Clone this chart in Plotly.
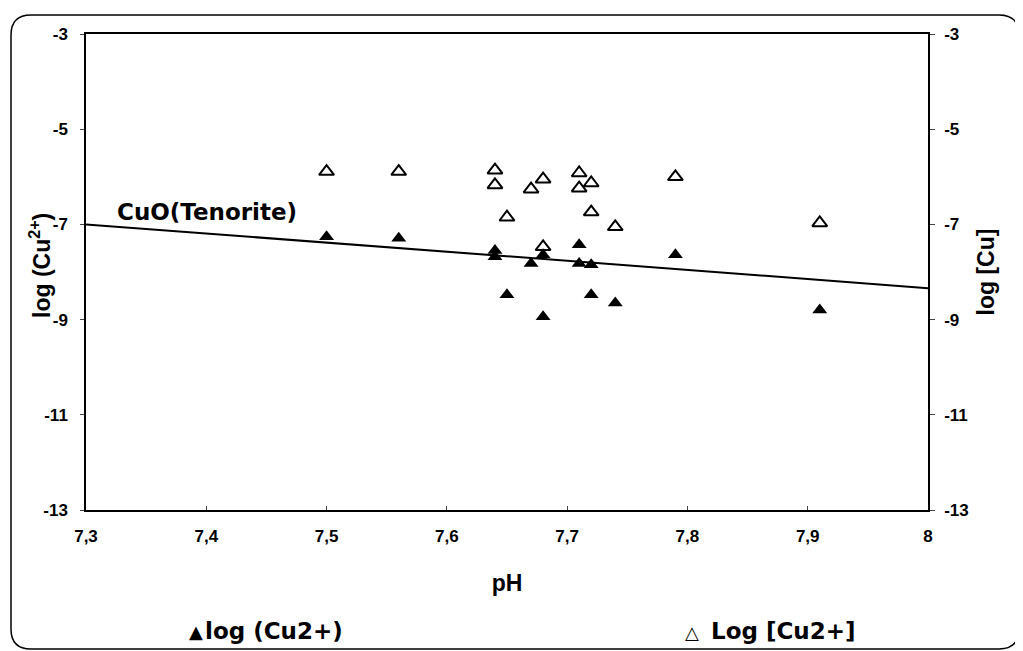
import plotly.graph_objects as go

# Data
ph_filled = [7.50, 7.56, 7.64, 7.64, 7.65, 7.67, 7.68, 7.68, 7.71, 7.71, 7.72, 7.72, 7.74, 7.79, 7.91]
log_cu2 = [-7.26, -7.29, -7.55, -7.68, -8.48, -7.82, -7.64, -8.94, -7.43, -7.82, -7.85, -8.48, -8.65, -7.64, -8.80]

ph_open = [7.50, 7.56, 7.64, 7.64, 7.65, 7.67, 7.68, 7.68, 7.71, 7.71, 7.72, 7.72, 7.74, 7.79, 7.91]
log_cu_total = [-5.89, -5.89, -5.86, -6.17, -6.85, -6.26, -6.05, -7.47, -5.92, -6.24, -6.13, -6.74, -7.05, -6.00, -6.97]

tenorite_ph = [7.3, 8.0]
tenorite_log = [-7.0, -8.34]

x_ticks = [7.3, 7.4, 7.5, 7.6, 7.7, 7.8, 7.9, 8.0]
x_ticklabels = ["7,3", "7,4", "7,5", "7,6", "7,7", "7,8", "7,9", "8"]
y_ticks = [-3, -5, -7, -9, -11, -13]
y_ticklabels = ["-3", "-5", "-7", "-9", "-11", "-13"]

FONT = "Liberation Sans, Arial, sans-serif"
WIDE = "DejaVu Sans, Verdana, sans-serif"

fig = go.Figure()
fig.add_trace(go.Scatter(x=tenorite_ph, y=tenorite_log, mode="lines",
                         line=dict(color="black", width=2), showlegend=False,
                         hoverinfo="skip"))
fig.add_trace(go.Scatter(x=ph_filled, y=log_cu2, mode="markers", name="log (Cu2+)",
                         marker=dict(symbol="triangle-up", size=13, color="black")))
fig.add_trace(go.Scatter(x=ph_open, y=log_cu_total, mode="markers", name="Log [Cu2+]",
                         marker=dict(symbol="triangle-up-open", size=13, color="black",
                                     line=dict(width=2, color="black"))))
# invisible trace to activate right axis
fig.add_trace(go.Scatter(x=[7.3], y=[-3], yaxis="y2", mode="markers",
                         marker=dict(opacity=0), showlegend=False, hoverinfo="skip"))

# page body has an 8px default margin: compensate
OFF = 8
W, H = 1023 - OFF, 651 - OFF
L, R, T, B = 86 - OFF, 928 - OFF, 34 - OFF, 510 - OFF

def px(xp):
    return (xp - OFF - L) / (R - L)

def py(yp):
    return (B - (yp - OFF)) / (B - T)

# rounded outer frame (screen pixel coords)
x0, x1, y0, y1, r = 11, 1019, 15, 649, 20
path = (f"M {px(x0+r)},{py(y0)} L {px(x1-r)},{py(y0)} "
        f"Q {px(x1)},{py(y0)} {px(x1)},{py(y0+r)} "
        f"L {px(x1)},{py(y1-r)} Q {px(x1)},{py(y1)} {px(x1-r)},{py(y1)} "
        f"L {px(x0+r)},{py(y1)} Q {px(x0)},{py(y1)} {px(x0)},{py(y1-r)} "
        f"L {px(x0)},{py(y0+r)} Q {px(x0)},{py(y0)} {px(x0+r)},{py(y0)} Z")

tick_font = dict(size=17, family=FONT, weight="bold")
title_font = dict(size=23, family=FONT, weight="bold")
label_font = dict(size=23, family=WIDE, weight="bold")

fig.update_layout(
    width=W, height=H,
    margin=dict(l=L, r=W - R, t=T, b=H - B, autoexpand=False),
    paper_bgcolor="white", plot_bgcolor="white",
    font=dict(family=FONT, size=17, color="black", weight="bold"),
    showlegend=False,
    xaxis=dict(range=[7.3, 8.0], tickvals=x_ticks, ticktext=x_ticklabels,
               showgrid=False, zeroline=False, showline=True, mirror=True,
               linecolor="black", linewidth=1.5, ticks="inside", ticklen=4,
               tickfont=tick_font, automargin=False, ticklabelstandoff=10,
               title=dict(text="pH", font=title_font, standoff=30)),
    yaxis=dict(range=[-13, -3], tickvals=y_ticks, ticktext=y_ticklabels,
               showgrid=False, zeroline=False,
               showline=True, linecolor="black", linewidth=1.5, ticks="outside", ticklen=4,
               tickfont=tick_font, automargin=False, ticklabelstandoff=9),
    yaxis2=dict(range=[-13, -3], tickvals=y_ticks, ticktext=y_ticklabels,
                overlaying="y", side="right",
                showgrid=False, zeroline=False, showline=True, linecolor="black",
                linewidth=1.5, ticks="outside", ticklen=5,
                tickfont=tick_font, automargin=False, ticklabelstandoff=6,
                title=dict(text="log [Cu]", font=title_font, standoff=10)),
    shapes=[dict(type="path", xref="paper", yref="paper", path=path,
                 line=dict(color="black", width=1.5), fillcolor="rgba(0,0,0,0)", layer="below")],
    annotations=[
        dict(x=px(40), y=py(266), xref="paper", yref="paper", text="log (Cu<sup>2+</sup>)",
             textangle=-90, showarrow=False, xanchor="center", yanchor="middle",
             font=title_font),
        dict(x=7.324, y=-6.74, xref="x", yref="y", text="CuO(Tenorite)",
             showarrow=False, xanchor="left", yanchor="middle", font=label_font),
        dict(x=px(196), y=py(631), xref="paper", yref="paper", text="▲",
             showarrow=False, xanchor="center", yanchor="middle",
             font=dict(size=18, family=WIDE)),
        dict(x=px(203), y=py(631), xref="paper", yref="paper", text="log (Cu2+)",
             showarrow=False, xanchor="left", yanchor="middle", font=label_font),
        dict(x=px(692), y=py(632), xref="paper", yref="paper", text="△",
             showarrow=False, xanchor="center", yanchor="middle",
             font=dict(size=18, family=WIDE)),
        dict(x=px(709), y=py(631), xref="paper", yref="paper", text="Log [Cu2+]",
             showarrow=False, xanchor="left", yanchor="middle", font=label_font),
    ],
)

fig.write_html("out.html")
